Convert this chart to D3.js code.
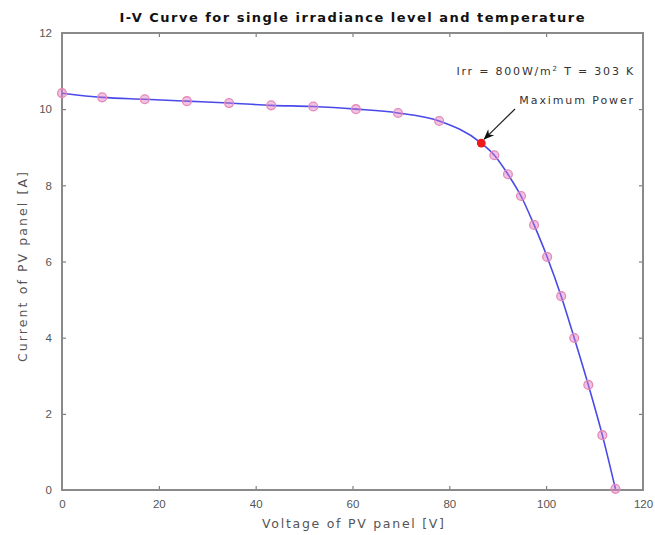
<!DOCTYPE html>
<html>
<head>
<meta charset="utf-8">
<script src="https://cdn.jsdelivr.net/npm/d3@7"></script>
<style>
  body { margin: 0; background: #fff; }
  svg { display: block; font-family: "DejaVu Sans", sans-serif; }
</style>
</head>
<body>
<div id="chart"></div>
<script>
// I-V curve data
const voltage = [0, 8.3, 17.1, 25.8, 34.5, 43.2, 51.9, 60.7, 69.4, 77.9, 86.6,
  89.3, 92.1, 94.8, 97.5, 100.2, 103.1, 105.8, 108.7, 111.6, 114.3];
const current = [10.42, 10.31, 10.26, 10.21, 10.16, 10.10, 10.07, 10.0, 9.9, 9.69, 9.11,
  8.79, 8.29, 7.72, 6.96, 6.12, 5.09, 3.99, 2.76, 1.44, 0.03];
const maxPower = { v: 86.6, i: 9.11 };
const xTicks = [0, 20, 40, 60, 80, 100, 120];
const yTicks = [0, 2, 4, 6, 8, 10, 12];

const width = 655, height = 535;
const margin = { top: 33, right: 12, bottom: 45, left: 62 };
const innerW = width - margin.left - margin.right;
const innerH = height - margin.top - margin.bottom;

const svg = d3.select('#chart').append('svg')
  .attr('width', width)
  .attr('height', height);

const g = svg.append('g').attr('transform', `translate(${margin.left},${margin.top})`);

const x = d3.scaleLinear().domain([0, 120]).range([0, innerW]);
const y = d3.scaleLinear().domain([0, 12]).range([innerH, 0]);

const axisColor = '#8a8a8a';
const textColor = '#555';

// Axes (ticks inward like MATLAB)
const styleAxis = sel => {
  sel.select('.domain').remove();
  sel.selectAll('line').attr('stroke', '#666');
  sel.selectAll('text').attr('fill', textColor).style('font-size', '11.5px');
};

g.append('g')
  .attr('transform', `translate(0,${innerH})`)
  .call(d3.axisBottom(x).tickValues(xTicks).tickSizeInner(-4).tickSizeOuter(0).tickPadding(10))
  .call(styleAxis);
g.append('g')
  .call(d3.axisTop(x).tickValues(xTicks).tickSizeInner(-4).tickSizeOuter(0).tickFormat(''))
  .call(styleAxis);
g.append('g')
  .call(d3.axisLeft(y).tickValues(yTicks).tickSizeInner(-4).tickSizeOuter(0).tickPadding(10))
  .call(styleAxis);
g.append('g')
  .attr('transform', `translate(${innerW},0)`)
  .call(d3.axisRight(y).tickValues(yTicks).tickSizeInner(-4).tickSizeOuter(0).tickFormat(''))
  .call(styleAxis);

// Box
g.append('rect')
  .attr('width', innerW)
  .attr('height', innerH)
  .attr('fill', 'none')
  .attr('stroke', axisColor)
  .attr('stroke-width', 2);

const pts = voltage.map((v, k) => ({ v, i: current[k] }));

// Curve
const line = d3.line()
  .x(d => x(d.v))
  .y(d => y(d.i))
  .curve(d3.curveMonotoneX);

g.append('path')
  .datum(pts)
  .attr('d', line)
  .attr('fill', 'none')
  .attr('stroke', '#4a4ae8')
  .attr('stroke-width', 1.6);

// Markers
g.selectAll('.pt')
  .data(pts.filter(d => d.v !== maxPower.v))
  .join('circle')
  .attr('class', 'pt')
  .attr('cx', d => x(d.v))
  .attr('cy', d => y(d.i))
  .attr('r', 4.4)
  .attr('fill', 'rgba(220,120,200,0.45)')
  .attr('stroke', '#e68ab4')
  .attr('stroke-width', 1.3);

g.append('circle')
  .attr('cx', x(maxPower.v))
  .attr('cy', y(maxPower.i))
  .attr('r', 4.4)
  .attr('fill', '#ee1a1a');

// Annotations
svg.append('defs').append('marker')
  .attr('id', 'arrow')
  .attr('viewBox', '0 0 10 10')
  .attr('refX', 9).attr('refY', 5)
  .attr('markerWidth', 9).attr('markerHeight', 9)
  .attr('orient', 'auto')
  .append('path')
  .attr('d', 'M0,1 L10,5 L0,9 L3,5 Z')
  .attr('fill', '#111');

g.append('line')
  .attr('x1', 453).attr('y1', 76)
  .attr('x2', x(maxPower.v) + 3).attr('y2', y(maxPower.i) - 4)
  .attr('stroke', '#222')
  .attr('stroke-width', 1.2)
  .attr('marker-end', 'url(#arrow)');

const irr = g.append('text')
  .attr('x', innerW - 8)
  .attr('y', 42)
  .attr('text-anchor', 'end')
  .attr('fill', '#333')
  .style('font-size', '11px')
  .style('letter-spacing', '1.8px');
irr.append('tspan').text('Irr = 800W/m');
irr.append('tspan').attr('dy', -4).style('font-size', '7px').text('2');
irr.append('tspan').attr('dy', 4).text('  T = 303 K');

g.append('text')
  .attr('x', innerW - 8)
  .attr('y', 71)
  .attr('text-anchor', 'end')
  .attr('fill', '#333')
  .style('font-size', '11px')
  .style('letter-spacing', '1.9px')
  .text('Maximum Power');

// Title and axis labels
svg.append('text')
  .attr('x', 352)
  .attr('y', 22)
  .attr('text-anchor', 'middle')
  .attr('fill', '#111')
  .style('font-size', '13px')
  .style('font-weight', 'bold')
  .attr('textLength', 465)
  .attr('lengthAdjust', 'spacing')
  .text('I-V Curve for single irradiance level and temperature');

svg.append('text')
  .attr('x', 353)
  .attr('y', 528)
  .attr('text-anchor', 'middle')
  .attr('fill', textColor)
  .style('font-size', '12.5px')
  .attr('textLength', 182)
  .attr('lengthAdjust', 'spacing')
  .text('Voltage of PV panel [V]');

svg.append('text')
  .attr('transform', `translate(27,267) rotate(-90)`)
  .attr('text-anchor', 'middle')
  .attr('fill', textColor)
  .style('font-size', '12.5px')
  .attr('textLength', 190)
  .attr('lengthAdjust', 'spacing')
  .text('Current of PV panel [A]');
</script>
</body>
</html>
